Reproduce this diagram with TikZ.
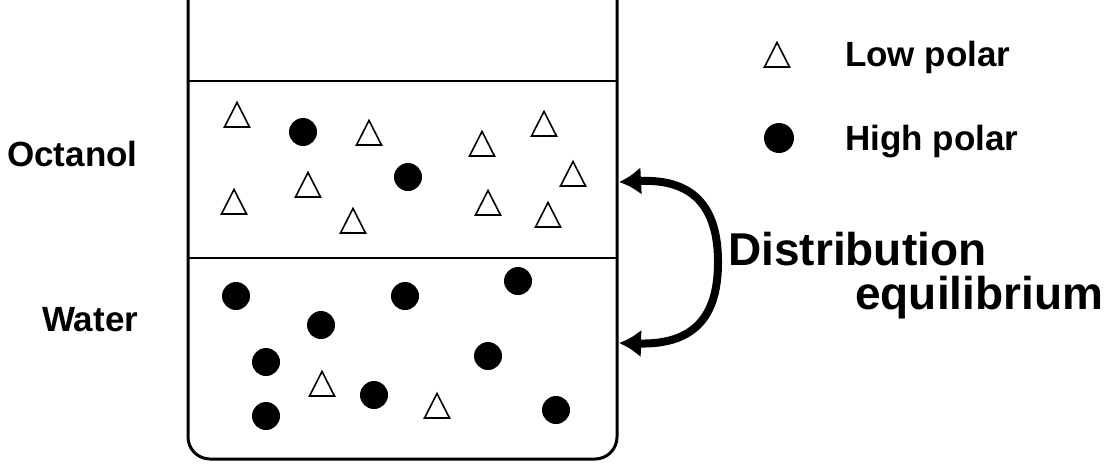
\documentclass[tikz,border=0pt]{standalone}
\usepackage{fontspec}
\setmainfont{Liberation Sans}
\usetikzlibrary{arrows.meta}

\tikzset{
  wall/.style={line width=3pt, rounded corners=22pt},
  layerline/.style={line width=2pt},
  dot/.style={circle, fill=black, draw=none, minimum size=28pt, inner sep=0pt},
  tri/.pic={\draw[line width=1.6pt, line join=miter] (-12.5,12) -- (0,-12.5) -- (12.5,12) -- cycle;},
  lbl/.style={anchor=base west, inner sep=0pt, font=\bfseries\fontsize{35}{40}\selectfont},
  biglbl/.style={anchor=base west, inner sep=0pt, font=\bfseries\fontsize{46}{50}\selectfont},
  eqarrow/.style={line width=8pt, {Latex[length=22pt,width=28pt]}-{Latex[length=22pt,width=28pt]}}
}

\begin{document}
\begin{tikzpicture}[x=1pt, y=-1pt]
\useasboundingbox (0,0) rectangle (1115,464);

% beaker and the two liquid layers
\draw[wall] (188,0) -- (188,459) -- (617,459) -- (617,0);
\draw[layerline] (188,81) -- (617,81);
\draw[layerline] (188,258) -- (617,258);

% octanol layer
\pic (o1) at (237,115) {tri};
\pic (o2) at (369,133) {tri};
\pic (o3) at (482,144) {tri};
\pic (o4) at (544,124) {tri};
\pic (o5) at (308,185) {tri};
\pic (o6) at (573,174) {tri};
\pic (o7) at (234,202) {tri};
\pic (o8) at (488,203) {tri};
\pic (o9) at (353,221) {tri};
\pic (o10) at (548,215) {tri};
\node[dot] (p1) at (303,132) {};
\node[dot] (p2) at (408,177) {};

% water layer
\node[dot] (w1) at (236,296) {};
\node[dot] (w2) at (405,296) {};
\node[dot] (w3) at (518,281) {};
\node[dot] (w4) at (321,325) {};
\node[dot] (w5) at (266,362) {};
\node[dot] (w6) at (488,356) {};
\node[dot] (w7) at (374,395) {};
\node[dot] (w8) at (266,416) {};
\node[dot] (w9) at (556,410) {};
\pic (u1) at (322,384) {tri};
\pic (u2) at (437,406) {tri};

% layer labels
\node[lbl] (octanol) at (7,166) {Octanol};
\node[lbl] (water) at (42,331) {Water};

% legend
\pic (legtri) at (777,55) {tri};
\node[dot, minimum size=30pt] (legdot) at (779,138) {};
\node[lbl] (lowpolar) at (845,66) {Low polar};
\node[lbl] (highpolar) at (845,150) {High polar};

% distribution arrow between the layers
\coordinate (top) at (619,182);
\coordinate (bot) at (619,343);
\draw[eqarrow] (top) .. controls (700,178) and (718,215) .. (718,262)
                     .. controls (718,310) and (700,345) .. (bot);
\node[biglbl] (dist) at (728,265) {Distribution};
\node[biglbl] (equil) at (855,309) {equilibrium};
\end{tikzpicture}
\end{document}
